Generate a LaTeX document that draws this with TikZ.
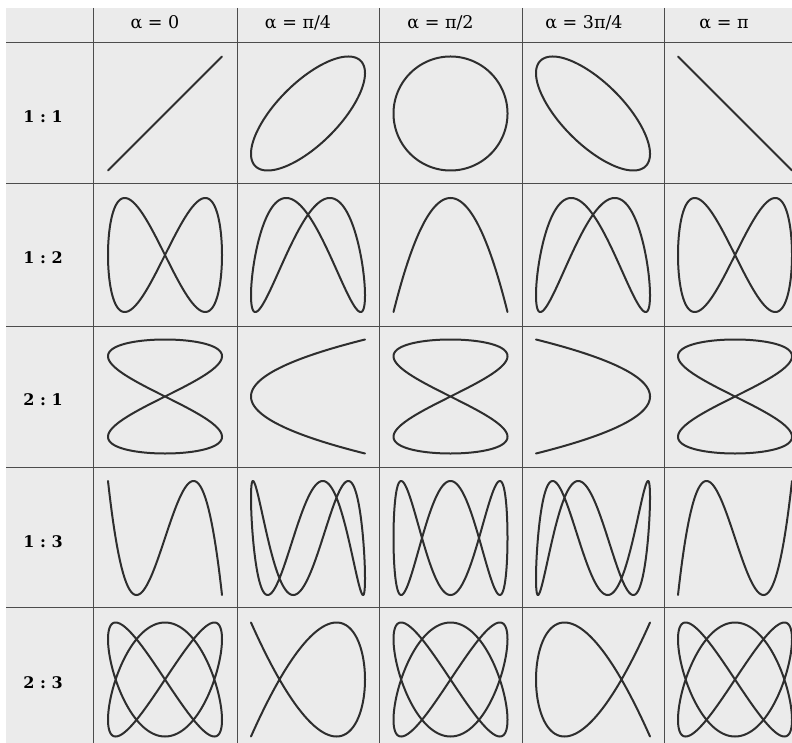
\documentclass[tikz,border=0pt]{standalone}
\usepackage{fontspec}
\newfontfamily\tablefont{DejaVu Serif}
\begin{document}
\begin{tikzpicture}[x=1pt, y=-1pt,
  grid/.style={draw=black!70, line width=1pt},
  figure/.style={draw=black!82, line width=2pt, line join=round},
  head/.style={anchor=base, font=\tablefont\fontsize{17.5}{20}\selectfont},
  ratio/.style={anchor=base, font=\tablefont\bfseries\fontsize{16}{19}\selectfont}]

% Paper
\useasboundingbox (0,0) rectangle (792,743);
\fill[black!8] (6,8) rectangle (792,743);

% Table lines
\foreach \gx in {93,237,379,522,664}
  \draw[grid] (\gx,8) -- (\gx,743);
\foreach \gy in {43,184,326,467,607}
  \draw[grid] (6,\gy) -- (792,\gy);

% Column heads
\foreach \ph/\cx/\txt in {0/155/0, 45/298/{π/4}, 90/440.5/{π/2},
                          135/584/{3π/4}, 180/724/π}
  \node[head] (head-\ph) at (\cx,29) {α = \txt};

% Rows: x = sin(fx t), y = sin(fy t + alpha)
\foreach \fx/\fy/\cy in {1/1/113.5, 1/2/255, 2/1/396.5, 1/3/538, 2/3/679.5} {
  \node[ratio] (ratio-\fx-\fy) at (43,\cy+9) {\fx\ :\ \fy};
  \foreach \ph/\cx in {0/165, 45/308, 90/450.5, 135/593, 180/735}
    \draw[figure] plot[domain=0:360, samples=361, variable=\t]
      ({\cx+57*sin(\fx*\t)}, {\cy-57*sin(\fy*\t+\ph)});
}

\end{tikzpicture}
\end{document}
